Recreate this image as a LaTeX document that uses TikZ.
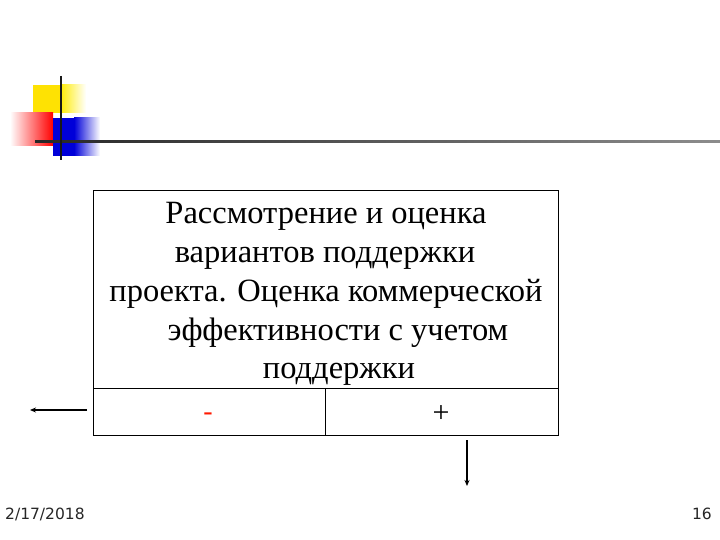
\documentclass[tikz,border=0pt]{standalone}
\usepackage{fontspec}
\setmainfont{Liberation Serif}
\newfontfamily\footfont{DejaVu Sans}
\usetikzlibrary{arrows.meta}
\begin{document}
\begin{tikzpicture}[x=1pt,y=-1pt,
  boxline/.style={line width=0.9pt,black},
  txt/.style={anchor=base,inner sep=0pt,font=\fontsize{32.5}{36}\selectfont},
  arr/.style={line width=1.2pt,-{Stealth[length=6pt,width=5pt]}},
  foot/.style={inner sep=0pt,font=\footfont\fontsize{15.5}{18}\selectfont,text=black!85}]
\useasboundingbox (0,0) rectangle (720,540);
% logo
\fill[yellow!85!orange] (33,85) rectangle (60,113);
\shade[left color=yellow!85!orange,right color=white] (60,85) rectangle (86,113);
\shade[left color=white,right color=red] (10,113) rectangle (53,146);
\fill[blue!85!black] (53,118) rectangle (74,156);
\shade[left color=blue!85!black,right color=white] (74,118) rectangle (100,156);
\shade[left color=black!85,right color=black!45] (35,141) rectangle (720,143);
\draw[line width=2.5pt,black!90] (61,76) -- (61,160);
% main box
\coordinate (tl) at (93,190);
\coordinate (br) at (558,435);
\draw[boxline] (tl) rectangle (br);
\coordinate (ml) at (93,388);
\coordinate (mr) at (558,388);
\draw[boxline] (ml) -- (mr);
\coordinate (dt) at (325,388);
\coordinate (db) at (325,435);
\draw[boxline] (dt) -- (db);
\node[txt] (l1) at (326,224) {Рассмотрение и оценка};
\node[txt] (l2) at (325,262) {вариантов поддержки};
\node[txt] (l3) at (326,301) {проекта. Оценка коммерческой};
\node[txt] (l4) at (338,340) {эффективности с учетом};
\node[txt] (l5) at (339,378) {поддержки};
\node[inner sep=0pt,font=\fontsize{28}{28}\selectfont,text=red!80!orange] (minus) at (208,417) {-};
\node[inner sep=0pt,font=\fontsize{30}{30}\selectfont] (plus) at (441,414) {+};
% arrows
\coordinate (a1s) at (87,410);
\coordinate (a1e) at (30,410);
\draw[arr] (a1s) -- (a1e);
\coordinate (a2s) at (467,440);
\coordinate (a2e) at (467,486);
\draw[arr] (a2s) -- (a2e);
% footer
\node[foot,anchor=base west] (date) at (5,519) {2/17/2018};
\node[foot,anchor=base east] (page) at (712,519) {16};
\end{tikzpicture}
\end{document}
